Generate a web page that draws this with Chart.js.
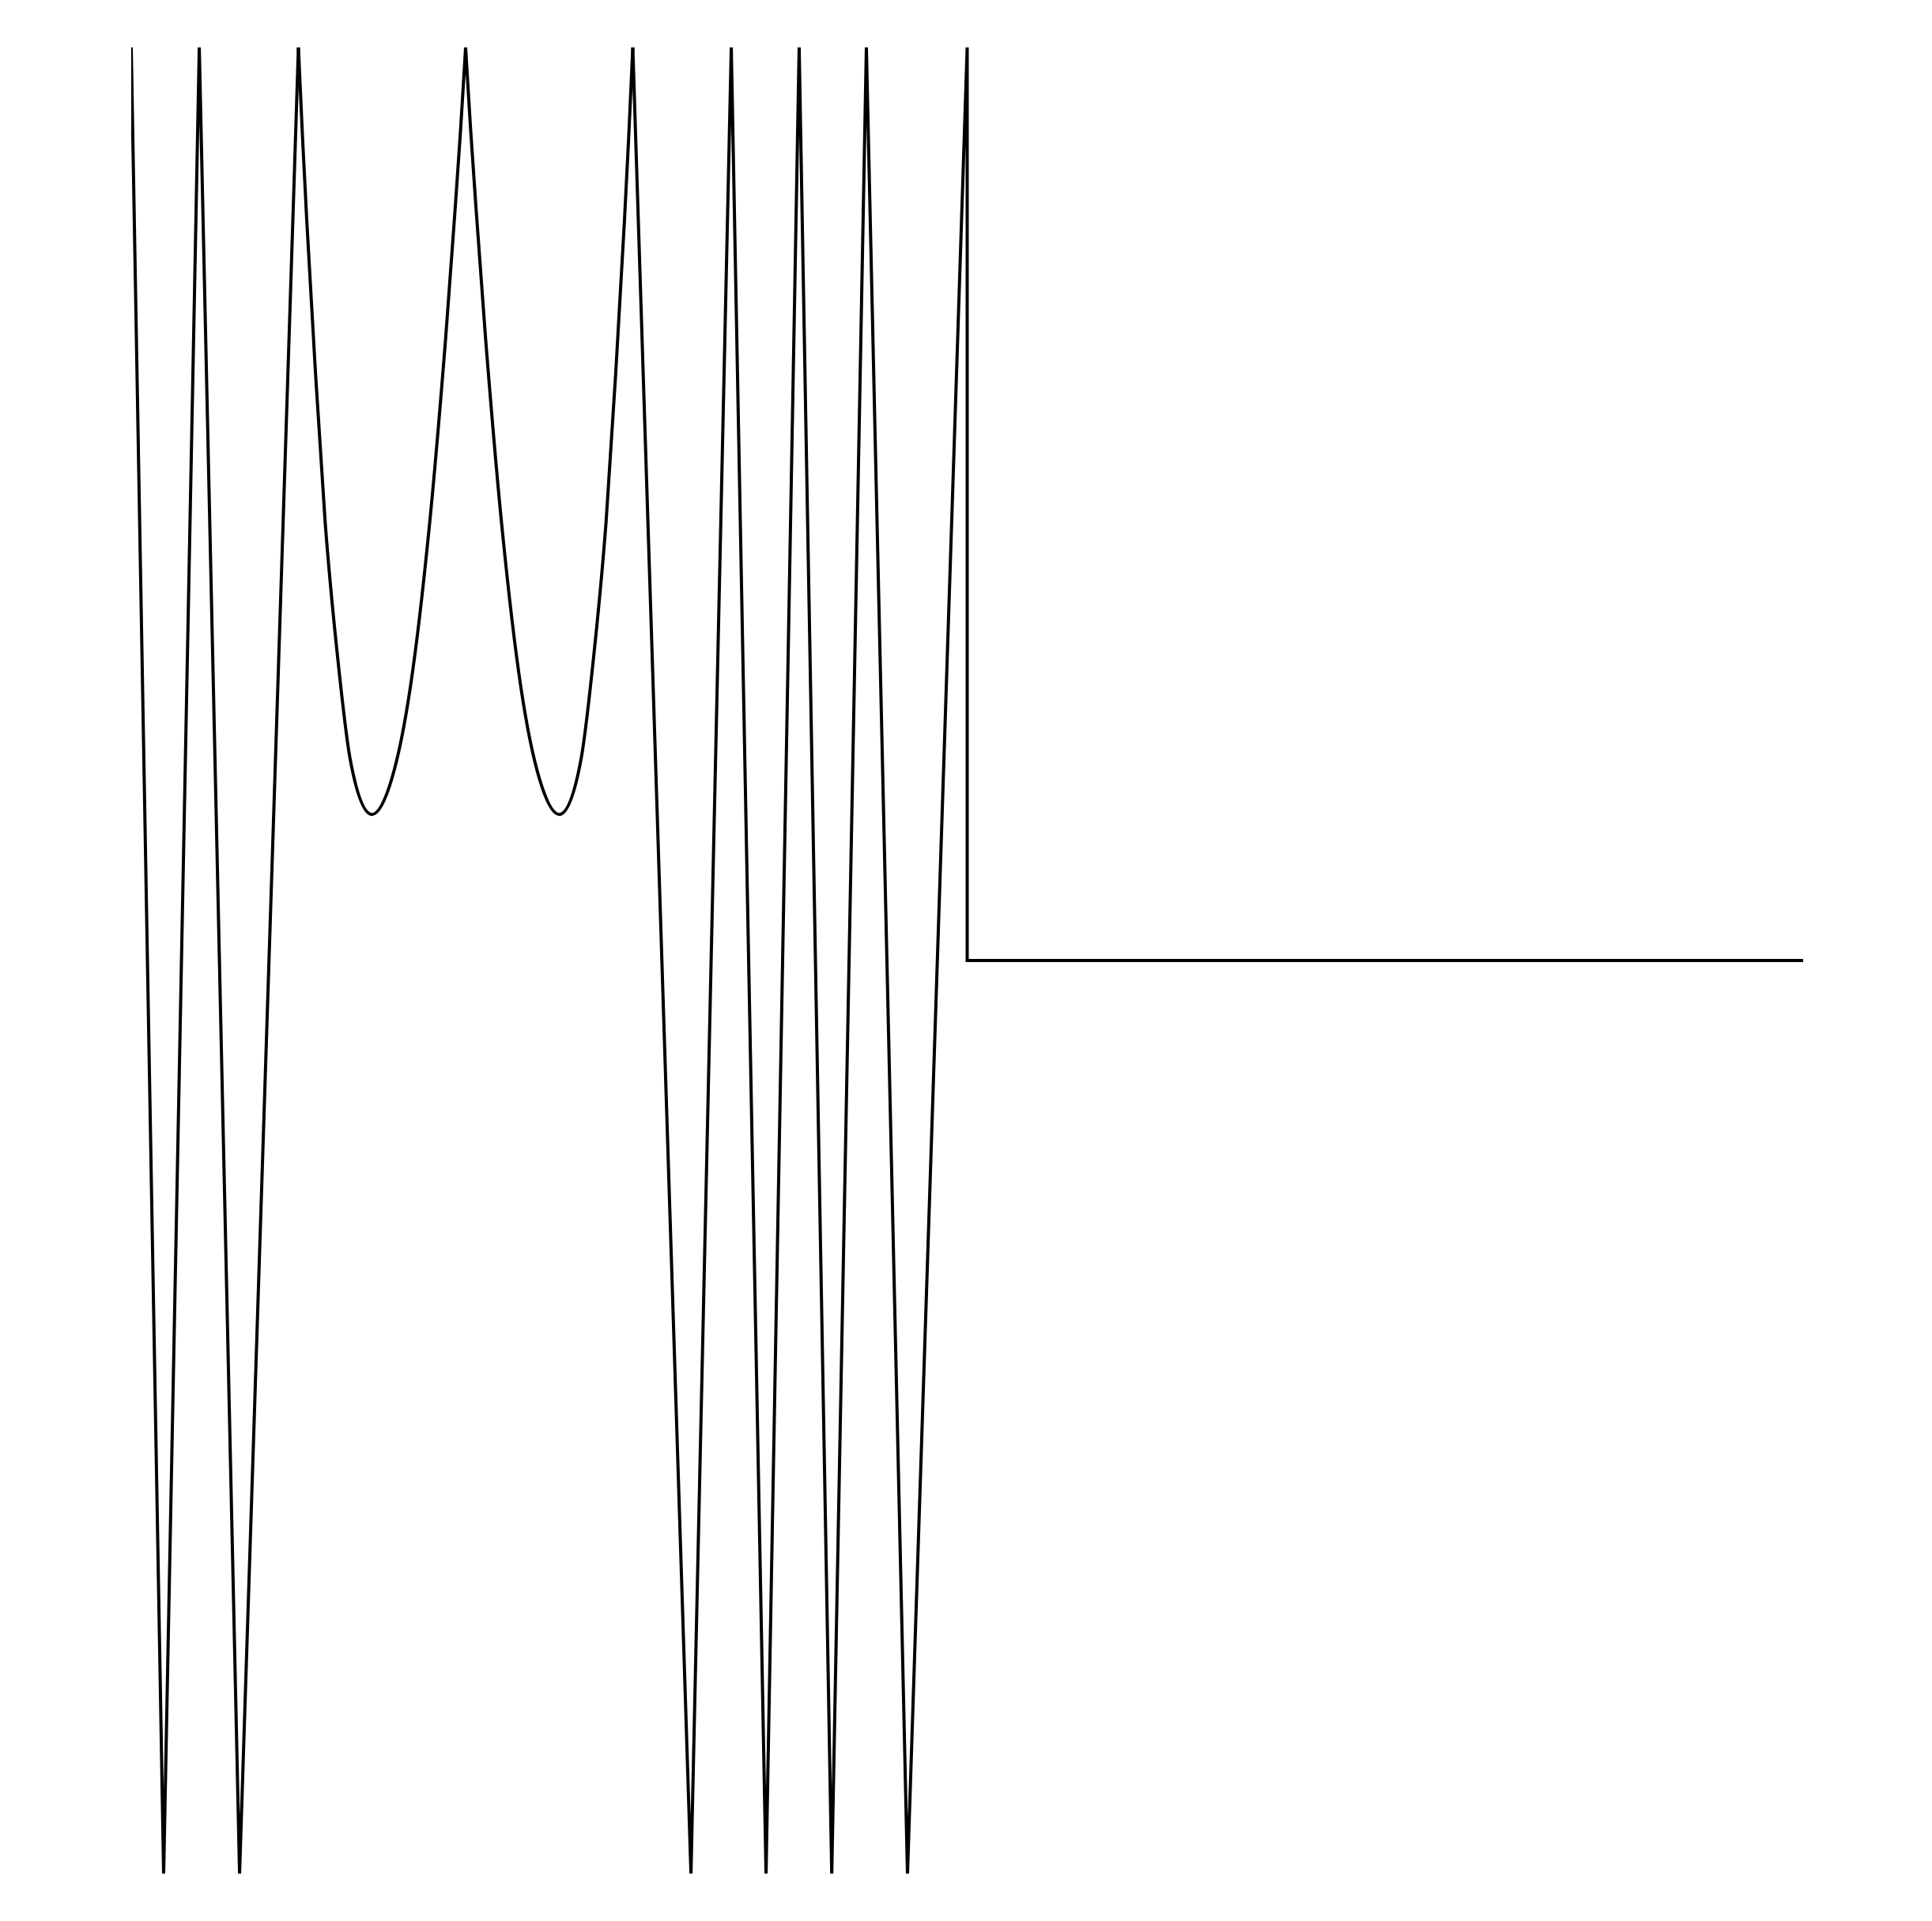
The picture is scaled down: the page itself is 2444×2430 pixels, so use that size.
<!DOCTYPE html>
<html>
<head>
<meta charset="utf-8">
<script src="https://cdn.jsdelivr.net/npm/chart.js@4/dist/chart.umd.min.js"></script>
<style>
    html, body { margin: 0; padding: 0; background: #ffffff; }
    #wrap { width: 2444px; height: 2430px; position: relative; }
</style>
</head>
<body>
<div id="wrap"><canvas id="signalChart"></canvas></div>
<script>
// straight part of the signal (null = gap where the curved dips are)
const lineX = [0, 1.94, 4.07, 6.48, 10, 15, 30, 33.48, 35.89, 37.97, 39.95, 41.9, 43.97, 46.43, 50, 50, 100];
const lineY = [1, -1, 1, -1, 1, null, 1, -1, 1, -1, 1, -1, 1, -1, 1, 0, 0];

// the two rounded dips between x = 10 and x = 30
const curveX = [10, 10.25, 10.5, 11.0, 11.6, 12.3, 13.1, 14.4, 15.6, 16.7, 17.8, 18.8, 19.4, 19.7, 20,
                20,
                20, 20.3, 20.6, 21.2, 22.2, 23.3, 24.4, 25.6, 26.9, 27.7, 28.4, 29.0, 29.5, 29.75, 30];
const curveY = [1, 0.90, 0.81, 0.65, 0.48, 0.34, 0.22, 0.16, 0.20, 0.30, 0.47, 0.68, 0.83, 0.91, 1,
                null,
                1, 0.91, 0.83, 0.68, 0.47, 0.30, 0.20, 0.16, 0.22, 0.34, 0.48, 0.65, 0.81, 0.90, 1];

const xMin = 0, xMax = 100;
const yMin = -1, yMax = 1;

function toPoints(xs, ys) {
    return xs.map((x, i) => ({ x: x, y: ys[i] }));
}

function signalChart(canvasId) {
    var ctx = document.getElementById(canvasId).getContext('2d');

    return new Chart(ctx, {
        type: 'line',
        data: {
            datasets: [{
                label: 'signal',
                data: toPoints(lineX, lineY),
                borderColor: '#000000',
                borderWidth: 4,
                borderCapStyle: 'butt',
                tension: 0,
                pointRadius: 0,
                fill: false,
            }, {
                label: 'signal (dips)',
                data: toPoints(curveX, curveY),
                borderColor: '#000000',
                borderWidth: 4,
                borderCapStyle: 'butt',
                cubicInterpolationMode: 'monotone',
                pointRadius: 0,
                fill: false,
            }]
        },
        options: {
            responsive: true,
            maintainAspectRatio: false,
            devicePixelRatio: 1,
            animation: false,
            layout: {
                padding: { left: 166, right: 163, top: 60, bottom: 60 }
            },
            plugins: {
                legend: { display: false },
                tooltip: { enabled: false }
            },
            scales: {
                x: {
                    type: 'linear',
                    min: xMin,
                    max: xMax,
                    display: false
                },
                y: {
                    min: yMin,
                    max: yMax,
                    display: false
                }
            }
        }
    });
}

signalChart('signalChart');
</script>
</body>
</html>
